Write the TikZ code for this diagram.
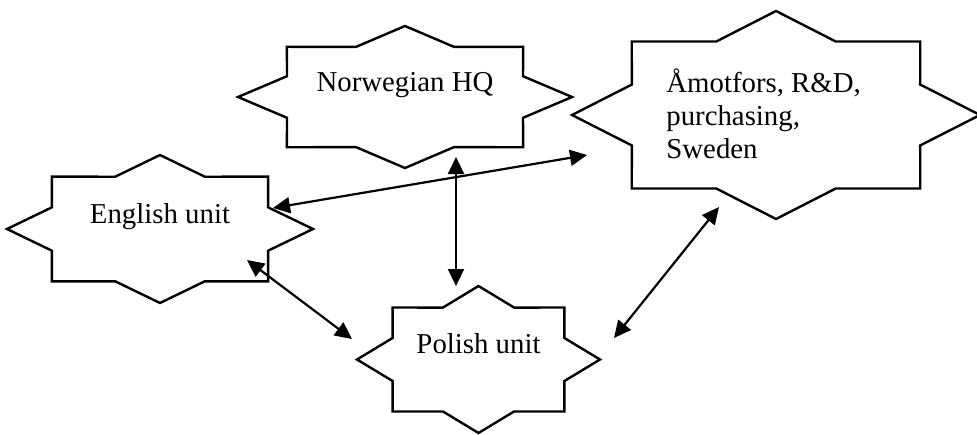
\documentclass[tikz,border=0pt]{standalone}
\usepackage{fontspec}
\setmainfont{Liberation Serif}
\usetikzlibrary{calc,arrows.meta}

\tikzset{
  starline/.style={draw=black, line width=1.2pt, line join=miter, fill=white},
  label/.style={font=\fontsize{14.4}{16.5}\selectfont, inner sep=0pt},
  link/.style={line width=1.1pt, {Triangle[length=8.5pt,width=8pt]}-{Triangle[length=8.5pt,width=8pt]}},
}

% eight-point star around a named centre: #1 centre, #2 x radius, #3 y radius
\newcommand\eightstar[3]{%
  \pgfmathsetmacro\starrix{0.765*#2}%
  \pgfmathsetmacro\starriy{0.765*#3}%
  \draw[starline, shift={(#1)}] (0:{#2} and {#3})
    \foreach \a in {22.5,67.5,...,337.5} {
      -- (\a:{\starrix} and {\starriy}) -- (\a+22.5:{#2} and {#3})
    } -- cycle;
}

\begin{document}
\begin{tikzpicture}[x=0.5pt,y=-0.5pt]
  \useasboundingbox (0,0) rectangle (977,434);
  \clip (0,0) rectangle (977,434);

  % star centres
  \coordinate (nor) at (405,97);
  \coordinate (swe) at (776,115);
  \coordinate (eng) at (160,229);
  \coordinate (pol) at (478.5,359.5);

  \eightstar{nor}{167}{71}
  \eightstar{swe}{204}{104}
  \eightstar{eng}{153}{74}
  \eightstar{pol}{121.5}{73.5}

  % labels
  \node[label, anchor=base] (nor-t) at (405,91) {Norwegian HQ};
  \node[label, anchor=base] (eng-t) at (160,223) {English unit};
  \node[label, anchor=base] (pol-t) at (478.5,353) {Polish unit};
  \node[label, anchor=base west, align=left] (swe-t) at (666,158)
    {Åmotfors, R\&D,\\purchasing,\\Sweden};

  % two-way links
  \draw[link] ($(nor)+(51,60)$) -- ($(pol)+(-22.5,-73.5)$);
  \draw[link] ($(eng)+(113,-21)$) -- ($(swe)+(-189,40)$);
  \draw[link] ($(eng)+(87,31)$) -- ($(pol)+(-126.5,-20.5)$);
  \draw[link] ($(pol)+(135.5,-21.5)$) -- ($(swe)+(-57,92)$);
\end{tikzpicture}
\end{document}
